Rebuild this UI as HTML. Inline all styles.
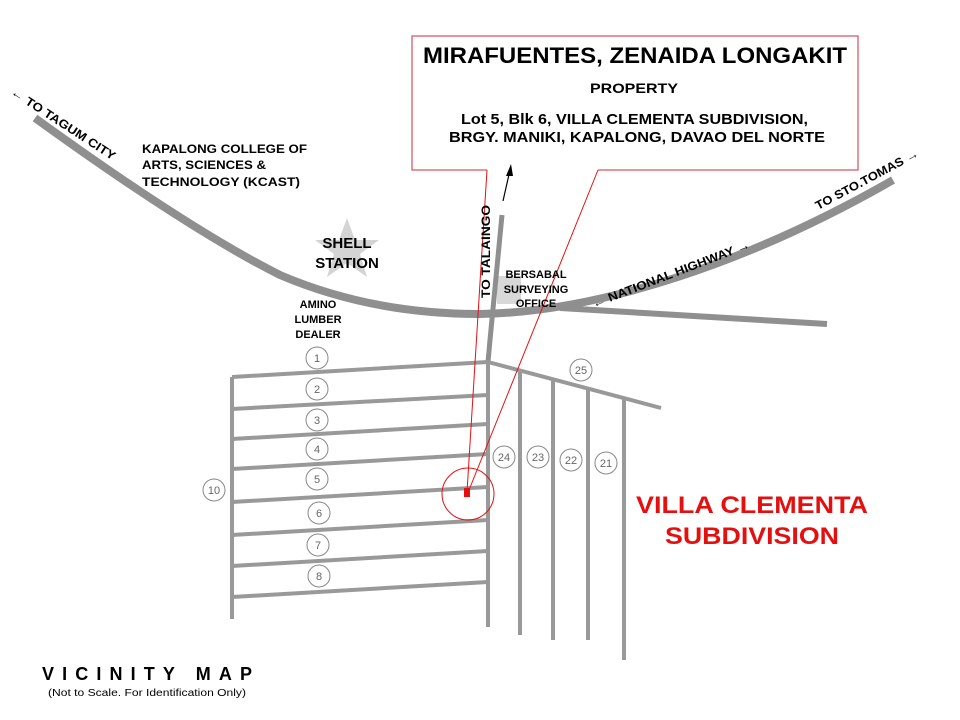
<!DOCTYPE html>
<html><head><meta charset="utf-8"><style>
html,body{margin:0;padding:0;background:#fff;}
svg{display:block;font-family:"Liberation Sans",Arial,sans-serif;}
</style></head><body>
<svg width="960" height="720" viewBox="0 0 960 720" xmlns="http://www.w3.org/2000/svg">
<rect width="960" height="720" fill="#fff"/>
<polygon points="347,218 355,240 379,240 360,254 367,277 347,263 327,277 334,254 315,240 339,240" fill="#d4d4d4"/>
<rect x="497" y="276" width="24" height="28" fill="#d8d8d8"/>
<g fill="none" stroke="#8f8f8f" stroke-width="8" stroke-linecap="butt">
<path d="M35,118 C100,165 200,235 280,275 C350,305 420,314 480,314 C600,312 750,262 893,180"/>
<path d="M560,308 L827,324" stroke-width="6"/>
<path d="M502,215 L490,340 L488,362" stroke-width="5"/>
</g>
<g stroke="#999" stroke-width="4" fill="none">
<line x1="232" y1="377" x2="232" y2="619"/>
<line x1="488" y1="362" x2="488" y2="627"/>
<line x1="232" y1="377" x2="488" y2="362"/>
<line x1="232" y1="409" x2="488" y2="395"/>
<line x1="232" y1="439" x2="488" y2="424"/>
<line x1="232" y1="469" x2="488" y2="454"/>
<line x1="232" y1="502" x2="488" y2="487"/>
<line x1="232" y1="535" x2="488" y2="520"/>
<line x1="232" y1="566" x2="488" y2="551"/>
<line x1="232" y1="597" x2="488" y2="582"/>
<line x1="488" y1="362" x2="661" y2="408"/>
<line x1="520" y1="371" x2="520" y2="635"/>
<line x1="553" y1="380" x2="553" y2="640"/>
<line x1="588" y1="389" x2="588" y2="640"/>
<line x1="624" y1="399" x2="624" y2="660"/>
</g>
<g fill="#fff" stroke="#888" stroke-width="1">
<circle cx="317" cy="358" r="11"/><circle cx="317" cy="389" r="11"/><circle cx="317" cy="420" r="11"/>
<circle cx="317" cy="449" r="11"/><circle cx="317" cy="479" r="11"/><circle cx="319" cy="513" r="11"/>
<circle cx="318" cy="545" r="11"/><circle cx="319" cy="576" r="11"/><circle cx="214" cy="490" r="11"/>
<circle cx="504" cy="457" r="11"/><circle cx="538" cy="457" r="11"/><circle cx="571" cy="460" r="11"/>
<circle cx="606" cy="463" r="11"/><circle cx="581" cy="370" r="11"/>
</g>
<g font-size="11" fill="#666" text-anchor="middle">
<text x="317" y="362">1</text><text x="317" y="393">2</text><text x="317" y="424">3</text>
<text x="317" y="453">4</text><text x="317" y="483">5</text><text x="319" y="517">6</text>
<text x="318" y="549">7</text><text x="319" y="580">8</text><text x="214" y="494">10</text>
<text x="504" y="461">24</text><text x="538" y="461">23</text><text x="571" y="464">22</text>
<text x="606" y="467">21</text><text x="581" y="374">25</text>
</g>
<g fill="none" stroke="#e0707a" stroke-width="1.5">
<path d="M487,170 L412,170 L412,36 L858,36 L858,170 L598,170"/>
</g>
<g fill="none" stroke="#e41010" stroke-width="1">
<line x1="487" y1="170" x2="467" y2="492"/>
<line x1="598" y1="170" x2="469" y2="490"/>
<circle cx="468" cy="494" r="26"/>
</g>
<rect x="464" y="488" width="6" height="9" fill="#e41010"/>
<line x1="503" y1="201" x2="510" y2="170" stroke="#000" stroke-width="1.2"/>
<polygon points="511,164 506,176 513,176" fill="#000"/>
<g font-weight="bold" fill="#000">
<text x="423" y="63" font-size="22" textLength="424" lengthAdjust="spacingAndGlyphs">MIRAFUENTES, ZENAIDA LONGAKIT</text>
<text x="590" y="93" font-size="14" textLength="88" lengthAdjust="spacingAndGlyphs">PROPERTY</text>
<text x="461" y="124" font-size="15" textLength="347" lengthAdjust="spacingAndGlyphs">Lot 5, Blk 6, VILLA CLEMENTA SUBDIVISION,</text>
<text x="449" y="142" font-size="15" textLength="376" lengthAdjust="spacingAndGlyphs">BRGY. MANIKI, KAPALONG, DAVAO DEL NORTE</text>
<text x="347" y="248" font-size="15" text-anchor="middle" style="font-weight:600">SHELL</text>
<text x="347" y="268" font-size="15" text-anchor="middle" style="font-weight:600">STATION</text>
<text x="318" y="308" font-size="11" text-anchor="middle">AMINO</text>
<text x="318" y="323" font-size="11" text-anchor="middle">LUMBER</text>
<text x="318" y="338" font-size="11" text-anchor="middle">DEALER</text>
<text x="536" y="278" font-size="11" text-anchor="middle">BERSABAL</text>
<text x="536" y="293" font-size="11" text-anchor="middle">SURVEYING</text>
<text x="536" y="307" font-size="11" text-anchor="middle">OFFICE</text>
<text x="636" y="513" font-size="24" fill="#e41010" textLength="232" lengthAdjust="spacingAndGlyphs">VILLA CLEMENTA</text>
<text x="665" y="544" font-size="24" fill="#e41010" textLength="174" lengthAdjust="spacingAndGlyphs">SUBDIVISION</text>
<text x="42" y="680" font-size="18" textLength="210" lengthAdjust="spacing">VICINITY MAP</text>
<text x="48" y="696" font-size="10" font-weight="normal" textLength="198" lengthAdjust="spacingAndGlyphs">(Not to Scale. For Identification Only)</text>
<text x="142" y="153" font-size="12" textLength="165" lengthAdjust="spacingAndGlyphs">KAPALONG COLLEGE OF</text>
<text x="142" y="169" font-size="12" textLength="124" lengthAdjust="spacingAndGlyphs">ARTS, SCIENCES &amp;</text>
<text x="142" y="186" font-size="12" textLength="158" lengthAdjust="spacingAndGlyphs">TECHNOLOGY (KCAST)</text>
<text font-size="12" transform="translate(10,94) rotate(33)" textLength="122" lengthAdjust="spacingAndGlyphs">← TO TAGUM CITY</text>
<text font-size="12" transform="translate(490,298) rotate(-90)" textLength="93" lengthAdjust="spacingAndGlyphs">TO TALAINGO</text>
<text font-size="12" transform="translate(594,308) rotate(-21)" textLength="168" lengthAdjust="spacingAndGlyphs">← NATIONAL HIGHWAY →</text>
<text font-size="12" transform="translate(818,210) rotate(-28)" textLength="115" lengthAdjust="spacingAndGlyphs">TO STO.TOMAS →</text>
</g>
</svg>
</body></html>
